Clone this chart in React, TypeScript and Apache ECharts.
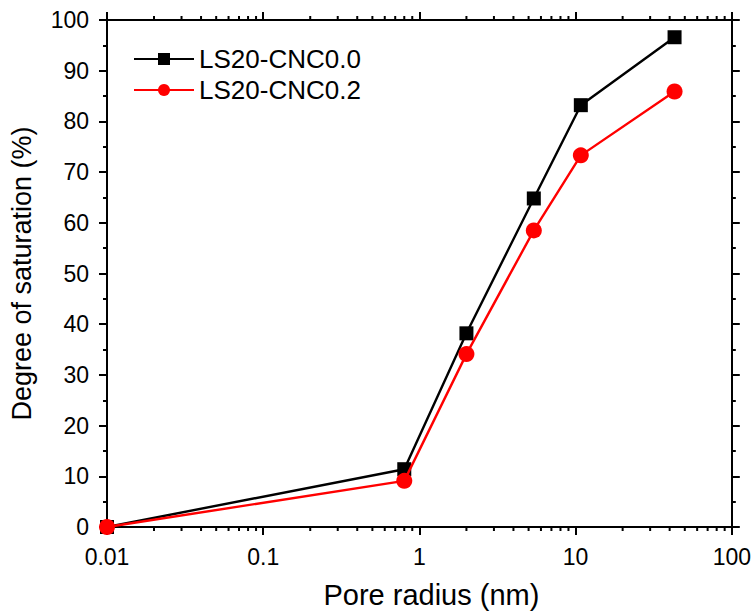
import React, { useEffect, useRef } from "react";
import * as echarts from "echarts";

const poreRadius = [0.01, 0.8, 2, 5.4, 10.8, 43];
const cnc00 = [0, 11.4, 38.2, 64.8, 83.2, 96.6];
const cnc02 = [0, 9.1, 34.1, 58.5, 73.3, 85.9];
const seriesNames = ["LS20-CNC0.0", "LS20-CNC0.2"];
const xMinorTicks = [
  0.02, 0.03, 0.04, 0.05, 0.06, 0.07, 0.08, 0.09,
  0.2, 0.3, 0.4, 0.5, 0.6, 0.7, 0.8, 0.9,
  2, 3, 4, 5, 6, 7, 8, 9,
  20, 30, 40, 50, 60, 70, 80, 90,
];

const FONT = "'Liberation Sans', Arial, sans-serif";

export default function App() {
  const ref = useRef<HTMLDivElement>(null);
  useEffect(() => {
    if (!ref.current) return;
    const chart = echarts.init(ref.current, null, { renderer: "svg" });
    const axisLine = { show: true, onZero: false, lineStyle: { color: "#000", width: 2 } };
    const option: any = {
      animation: false,
      backgroundColor: "#fff",
      textStyle: { fontFamily: FONT },
      grid: { left: 104, right: 22, top: 20, bottom: 87, containLabel: false },
      legend: {
        data: seriesNames,
        orient: "vertical",
        left: 128,
        top: 41,
        itemWidth: 60,
        itemHeight: 15,
        itemGap: 5,
        textStyle: { fontSize: 26, color: "#000", fontFamily: FONT },
      },
      xAxis: [
        {
          type: "log",
          logBase: 10,
          min: 0.01,
          max: 100,
          name: "Pore radius (nm)",
          nameLocation: "middle",
          nameGap: 53,
          nameTextStyle: { fontSize: 29, color: "#000", fontFamily: FONT, padding: [0, 0, 0, 24] },
          axisLine,
          axisTick: { show: true, inside: false, length: 8, lineStyle: { color: "#000", width: 2 } },
          axisLabel: {
            fontSize: 23,
            color: "#000",
            margin: 18,
            fontFamily: FONT,
            formatter: (v: number) => String(Number(v.toPrecision(6))),
          },
          splitLine: { show: false },
        },
        {
          type: "log",
          logBase: 10,
          min: 0.01,
          max: 100,
          position: "top",
          axisLine,
          axisTick: { show: true, inside: false, length: 8, lineStyle: { color: "#000", width: 2 } },
          axisLabel: { show: false },
          splitLine: { show: false },
        },
      ],
      yAxis: [
        {
          type: "value",
          min: 0,
          max: 100,
          interval: 10,
          name: "Degree of saturation (%)",
          nameLocation: "middle",
          nameGap: 72,
          nameTextStyle: { fontSize: 27, color: "#000", fontFamily: FONT },
          axisLine,
          axisTick: { show: true, inside: false, length: 8, lineStyle: { color: "#000", width: 2 } },
          minorTick: { show: true, splitNumber: 2, length: 4, lineStyle: { color: "#000", width: 2 } },
          axisLabel: { fontSize: 23, color: "#000", margin: 18, fontFamily: FONT },
          splitLine: { show: false },
          minorSplitLine: { show: false },
        },
        {
          type: "value",
          min: 0,
          max: 100,
          interval: 10,
          position: "right",
          axisLine,
          axisTick: { show: true, inside: false, length: 8, lineStyle: { color: "#000", width: 2 } },
          minorTick: { show: true, splitNumber: 2, length: 4, lineStyle: { color: "#000", width: 2 } },
          axisLabel: { show: false },
          splitLine: { show: false },
          minorSplitLine: { show: false },
        },
      ],
      series: [
        {
          name: seriesNames[0],
          type: "line",
          data: poreRadius.map((x, i) => [x, cnc00[i]]),
          symbol: "rect",
          symbolSize: 14,
          itemStyle: { color: "#000" },
          lineStyle: { color: "#000", width: 2.4 },
          z: 3,
        },
        {
          name: seriesNames[1],
          type: "line",
          data: poreRadius.map((x, i) => [x, cnc02[i]]),
          symbol: "circle",
          symbolSize: 16,
          itemStyle: { color: "#ff0000" },
          lineStyle: { color: "#ff0000", width: 2.4 },
          z: 4,
        },
        {
          type: "custom",
          name: "minorTicks",
          data: xMinorTicks.map((v) => [v]),
          clip: false,
          silent: true,
          encode: { x: 0 },
          renderItem: (params: any, api: any) => {
            const v = api.value(0);
            const b = api.coord([v, 0]);
            const t = api.coord([v, 100]);
            const style = { stroke: "#000", lineWidth: 2 };
            return {
              type: "group",
              children: [
                { type: "line", shape: { x1: b[0], y1: b[1], x2: b[0], y2: b[1] + 4 }, style },
                { type: "line", shape: { x1: t[0], y1: t[1], x2: t[0], y2: t[1] - 4 }, style },
              ],
            };
          },
        },
      ],
    };
    chart.setOption(option);
    return () => chart.dispose();
  }, []);
  return (
    <div
      ref={ref}
      style={{ position: "fixed", left: 0, top: 0, width: 754, height: 614, background: "#fff" }}
    />
  );
}
